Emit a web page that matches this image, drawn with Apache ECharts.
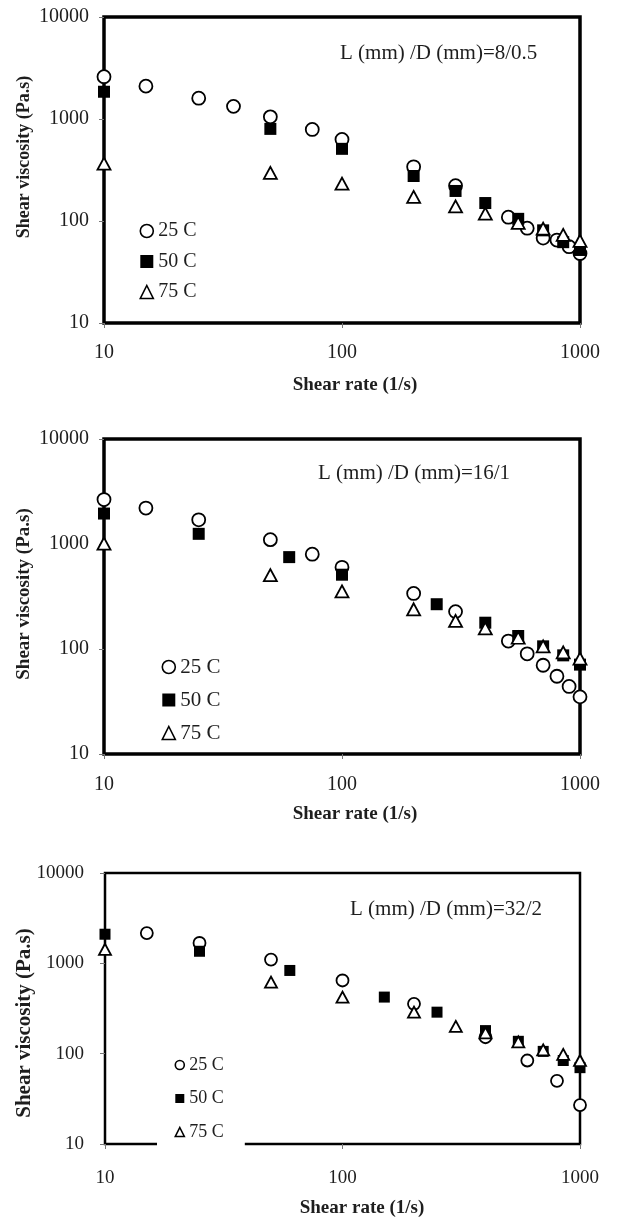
<!DOCTYPE html>
<html>
<head>
<meta charset="utf-8">
<script src="https://cdn.jsdelivr.net/npm/echarts@6/dist/echarts.min.js"></script>
<style>
html,body{margin:0;padding:0;background:#fff;}
#chart{width:626px;height:1223px;}
</style>
</head>
<body>
<div id="chart"></div>
<script>
// ---- Data ----
const seriesNames = ['25 C', '50 C', '75 C'];
const xTickLabels = ['10', '100', '1000'];
const yTickLabels = ['10', '100', '1000', '10000'];
const panelLabels = ['L (mm) /D (mm)=8/0.5', 'L (mm) /D (mm)=16/1', 'L (mm) /D (mm)=32/2'];

// Panel 1: L/D = 8/0.5
const rate25_p1 = [10, 15, 25, 35, 50, 75, 100, 200, 300, 500, 600, 700, 800, 900, 1000];
const visc25_p1 = [2600, 2100, 1600, 1330, 1050, 790, 630, 340, 222, 109, 85, 68, 65, 56, 48];
const rate50_p1 = [10, 50, 100, 200, 300, 400, 550, 700, 850, 1000];
const visc50_p1 = [1850, 800, 510, 276, 197, 150, 105, 81, 62, 52];
const rate75_p1 = [10, 50, 100, 200, 300, 400, 550, 700, 850, 1000];
const visc75_p1 = [365, 296, 232, 172, 139, 118, 96, 84, 73, 64];

// Panel 2: L/D = 16/1
const rate25_p2 = [10, 15, 25, 50, 75, 100, 200, 300, 500, 600, 700, 800, 900, 1000];
const visc25_p2 = [2650, 2200, 1700, 1100, 800, 600, 338, 227, 119, 90, 70, 55, 44, 35];
const rate50_p2 = [10, 25, 60, 100, 250, 400, 550, 700, 850, 1000];
const visc50_p2 = [1950, 1250, 750, 510, 267, 178, 133, 106, 87, 71];
const rate75_p2 = [10, 50, 100, 200, 300, 400, 550, 700, 850, 1000];
const visc75_p2 = [1010, 505, 353, 239, 185, 157, 128, 106, 93, 81];

// Panel 3: L/D = 32/2
const rate25_p3 = [15, 25, 50, 100, 200, 400, 600, 800, 1000];
const visc25_p3 = [2160, 1680, 1100, 646, 356, 152, 84, 50, 27];
const rate50_p3 = [10, 25, 60, 150, 250, 400, 550, 700, 850, 1000];
const visc50_p3 = [2100, 1360, 834, 423, 288, 180, 137, 106, 84, 70];
const rate75_p3 = [10, 50, 100, 200, 300, 400, 550, 700, 850, 1000];
const visc75_p3 = [1430, 620, 423, 288, 200, 170, 135, 110, 98, 84];

// ---- Chart ----
const FONT = "'Liberation Serif','Times New Roman',serif";
const TXT = '#1e1e1e';

const panels = [
  { grid: {left: 104, top: 17, width: 476, height: 306}, border: 3.5,
    tickFont: 20, xMargin: 20, yMargin: 15, sym: 13,
    data: [[rate25_p1, visc25_p1], [rate50_p1, visc50_p1], [rate75_p1, visc75_p1]],
    yTitle: {x: 24, y: 157, size: 18}, xTitle: {x: 355, y: 385, size: 19},
    note: {x: 340, y: 53},
    legend: {left: 139.5, top: 221, icon: 13, font: 20, gap: 10.5, padding: 0, bg: 'transparent'} },
  { grid: {left: 104, top: 439, width: 476, height: 315}, border: 3.5,
    tickFont: 20, xMargin: 21, yMargin: 15, sym: 13,
    data: [[rate25_p2, visc25_p2], [rate50_p2, visc50_p2], [rate75_p2, visc75_p2]],
    yTitle: {x: 24, y: 594, size: 19}, xTitle: {x: 355, y: 814, size: 19},
    note: {x: 318, y: 473},
    legend: {left: 161.5, top: 656.5, icon: 13, font: 21, gap: 12, padding: 0, bg: 'transparent'} },
  { grid: {left: 105, top: 873, width: 475, height: 271}, border: 2.5,
    tickFont: 19, xMargin: 25, yMargin: 21, sym: 12,
    data: [[rate25_p3, visc25_p3], [rate50_p3, visc50_p3], [rate75_p3, visc75_p3]],
    yTitle: {x: 25, y: 1023, size: 21}, xTitle: {x: 362, y: 1208, size: 19},
    note: {x: 350, y: 909},
    legend: {left: 157, top: 1051, icon: 9, font: 18, gap: 15.5, padding: [5, 21, 7, 17.5], bg: '#fff'} }
];

const symbols = ['circle', 'rect', 'triangle'];
const fills = ['#fff', '#000', '#fff'];

const grids = [], xAxes = [], yAxes = [], series = [], legends = [], graphics = [];

panels.forEach((p, gi) => {
  grids.push(Object.assign({show: true, borderColor: '#000', borderWidth: p.border, backgroundColor: 'transparent'}, p.grid));
  xAxes.push({
    type: 'log', logBase: 10, min: 10, max: 1000, gridIndex: gi,
    axisLine: {show: false},
    axisTick: {show: true, length: 5, lineStyle: {color: '#777', width: 1}},
    splitLine: {show: false}, minorTick: {show: false},
    axisLabel: {margin: p.xMargin, fontSize: p.tickFont, fontFamily: FONT, color: TXT,
      formatter: v => xTickLabels[Math.round(Math.log10(v)) - 1]}
  });
  yAxes.push({
    type: 'log', logBase: 10, min: 10, max: 10000, gridIndex: gi,
    axisLine: {show: false},
    axisTick: {show: true, length: 5, lineStyle: {color: '#777', width: 1}},
    splitLine: {show: false}, minorTick: {show: false},
    axisLabel: {margin: p.yMargin, fontSize: p.tickFont, fontFamily: FONT, color: TXT,
      formatter: v => yTickLabels[Math.round(Math.log10(v)) - 1]}
  });
  p.data.forEach((d, si) => {
    const size = si === 2 ? [p.sym, p.sym - 1] : (si === 1 ? p.sym - 1 : p.sym);
    series.push({
      type: 'scatter', name: seriesNames[si], xAxisIndex: gi, yAxisIndex: gi,
      symbol: symbols[si], symbolSize: size, clip: false,
      itemStyle: {color: fills[si], borderColor: '#000', borderWidth: si === 1 ? 0 : 1.8, opacity: 1},
      emphasis: {disabled: true},
      data: d[0].map((r, i) => [r, d[1][i]])
    });
  });
  const L = p.legend;
  legends.push({
    orient: 'vertical', left: L.left, top: L.top, padding: L.padding, backgroundColor: L.bg,
    itemWidth: L.icon, itemHeight: L.icon, itemGap: L.gap, selectedMode: false, z: 10,
    textStyle: {fontFamily: FONT, fontSize: L.font, color: TXT},
    data: seriesNames.map((n, si) => ({
      name: n, icon: symbols[si],
      itemStyle: {color: fills[si], borderColor: '#000', borderWidth: si === 1 ? 0 : 1.6}
    }))
  });
  graphics.push({
    type: 'text', x: p.yTitle.x, y: p.yTitle.y, rotation: Math.PI / 2,
    style: {text: 'Shear viscosity (Pa.s)', font: 'bold ' + p.yTitle.size + 'px ' + FONT, fill: TXT, align: 'center', verticalAlign: 'middle'}
  });
  graphics.push({
    type: 'text', x: p.xTitle.x, y: p.xTitle.y,
    style: {text: 'Shear rate (1/s)', font: 'bold ' + p.xTitle.size + 'px ' + FONT, fill: TXT, align: 'center', verticalAlign: 'middle'}
  });
  graphics.push({
    type: 'text', x: p.note.x, y: p.note.y,
    style: {text: panelLabels[gi], font: '21px ' + FONT, fill: TXT, align: 'left', verticalAlign: 'middle'}
  });
});

const chart = echarts.init(document.getElementById('chart'), null, {renderer: 'canvas'});
chart.setOption({
  animation: false,
  backgroundColor: '#fff',
  grid: grids, xAxis: xAxes, yAxis: yAxes, series: series, legend: legends,
  graphic: graphics
});
</script>
</body>
</html>
